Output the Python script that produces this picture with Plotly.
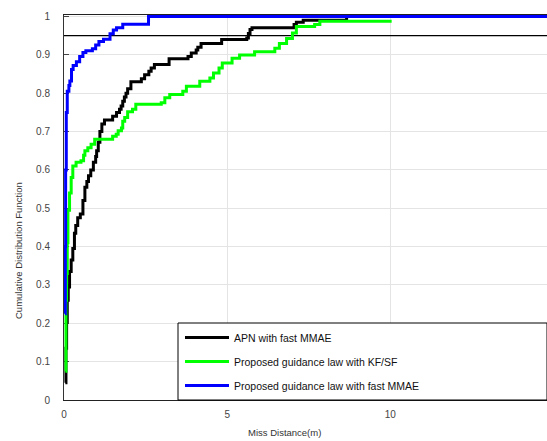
import plotly.graph_objects as go

# ---- data ----
apn_x = [0.04, 0.06, 0.08, 0.1, 0.13, 0.17, 0.22, 0.27, 0.32, 0.36, 0.42, 0.5, 0.58, 0.64, 0.7, 0.75,
         0.82, 0.9, 0.97, 1.0, 1.05, 1.1, 1.16, 1.24, 1.49, 1.61, 1.7, 1.75, 1.8, 1.85, 1.9, 1.95,
         2.05, 2.37, 2.47, 2.6, 2.67, 2.77, 3.22, 3.8, 3.9, 4.05, 4.1, 4.2, 4.83, 5.6, 5.65, 5.7,
         5.76, 7.05, 7.12, 7.33, 8.66]
apn_y = [0.045, 0.135, 0.205, 0.26, 0.295, 0.335, 0.365, 0.395, 0.435, 0.455, 0.475, 0.485, 0.52,
         0.555, 0.57, 0.585, 0.6, 0.62, 0.635, 0.65, 0.672, 0.7, 0.72, 0.73, 0.74, 0.75, 0.758,
         0.767, 0.779, 0.79, 0.8, 0.812, 0.83, 0.838, 0.848, 0.857, 0.866, 0.875, 0.89, 0.896,
         0.905, 0.913, 0.92, 0.93, 0.94, 0.944, 0.956, 0.966, 0.971, 0.979, 0.985, 0.99, 1.0]

kf_x = [0.04, 0.06, 0.08, 0.1, 0.12, 0.17, 0.22, 0.27, 0.37, 0.52, 0.6, 0.64, 0.73, 0.83, 0.94,
        1.49, 1.6, 1.66, 1.76, 1.8, 1.86, 1.95, 2.1, 2.2, 2.98, 3.09, 3.24, 3.64, 3.75, 4.16,
        4.47, 4.58, 4.75, 4.85, 5.15, 5.38, 5.84, 6.46, 6.6, 6.82, 7.0, 7.12, 7.68, 7.84, 10.04]
kf_y = [0.075, 0.26, 0.33, 0.41, 0.495, 0.54, 0.58, 0.61, 0.62, 0.624, 0.638, 0.65, 0.658, 0.667,
        0.68, 0.688, 0.693, 0.702, 0.709, 0.727, 0.737, 0.752, 0.758, 0.771, 0.775, 0.788, 0.797,
        0.805, 0.818, 0.831, 0.84, 0.853, 0.866, 0.879, 0.891, 0.9, 0.908, 0.917, 0.93, 0.943,
        0.957, 0.974, 0.979, 0.988, 0.988]

mmae_x = [0.03, 0.04, 0.05, 0.07, 0.1, 0.15, 0.18, 0.23, 0.28, 0.38, 0.48, 0.58, 0.67, 0.87, 0.97,
          1.07, 1.21, 1.41, 1.51, 1.61, 1.80, 2.59, 15]
mmae_y = [0.225, 0.4, 0.6, 0.75, 0.805, 0.82, 0.832, 0.862, 0.872, 0.882, 0.896, 0.906, 0.911,
          0.916, 0.926, 0.935, 0.941, 0.955, 0.965, 0.971, 0.98, 1.0, 1.0]

threshold = 0.95
x_ticks = [0, 5, 10, 15]
y_ticks = [0, 0.1, 0.2, 0.3, 0.4, 0.5, 0.6, 0.7, 0.8, 0.9, 1]
y_tick_text = ["0", "0.1", "0.2", "0.3", "0.4", "0.5", "0.6", "0.7", "0.8", "0.9", "1"]

names = ["APN with fast MMAE", "Proposed guidance law with KF/SF", "Proposed guidance law with fast MMAE"]
colors = ["#000000", "#00ff00", "#0000ff"]

FONT = "Arial, Liberation Sans, sans-serif"

fig = go.Figure()
fig.add_trace(go.Scatter(x=[0, 15], y=[threshold, threshold], mode="lines",
                         line=dict(color="black", width=1.2), showlegend=False, hoverinfo="skip"))
for i, (xs, ys) in enumerate([(apn_x, apn_y), (kf_x, kf_y), (mmae_x, mmae_y)]):
    fig.add_trace(go.Scatter(x=xs, y=ys, mode="lines", name=names[i],
                             line=dict(color=colors[i], width=3, shape="hv"),
                             legendgroup="g%d" % i))

W, H = 547, 441
L, R, T, B = 64, 0, 15, 41
pw = W - L - R
ph = H - T - B

def px_x(p):
    return (p - L) / pw

def px_y(p):
    return (H - B - p) / ph

fig.add_shape(type="rect", xref="paper", yref="paper",
              x0=px_x(178), x1=1.0, y0=0, y1=px_y(323),
              fillcolor="white", line=dict(color="black", width=1), layer="above")

fig.update_layout(
    width=W, height=H,
    margin=dict(l=L, r=R, t=T, b=B, pad=0, autoexpand=False),
    paper_bgcolor="white", plot_bgcolor="white",
    font=dict(family=FONT, size=10, color="#333333"),
    showlegend=True,
    legend=dict(x=px_x(180), y=px_y(323), xanchor="left", yanchor="top",
                bgcolor="rgba(0,0,0,0)", borderwidth=0,
                font=dict(family=FONT, size=10.5, color="#111111"),
                tracegroupgap=5, itemwidth=44),
    xaxis=dict(range=[0, 14.8], tickvals=x_ticks, ticktext=[str(v) for v in x_ticks],
               showgrid=True, gridcolor="#e4e4e4", gridwidth=1, zeroline=False,
               showline=True, linecolor="#222222", linewidth=1, mirror=True,
               ticks="inside", ticklen=5, tickcolor="#444444", automargin=False,
               ticklabelstandoff=5, layer="below traces",
               tickfont=dict(size=10, color="#444444")),
    yaxis=dict(range=[0, 1.004], tickvals=y_ticks, ticktext=y_tick_text,
               showgrid=True, gridcolor="#e4e4e4", gridwidth=1, zeroline=False,
               showline=True, linecolor="#333333", linewidth=1, mirror=True,
               ticks="inside", ticklen=5, tickcolor="#444444", automargin=False,
               ticklabelstandoff=11, layer="below traces",
               tickfont=dict(size=10, color="#444444")),
    annotations=[
        dict(text="Miss Distance(m)", xref="paper", yref="paper",
             x=px_x(284), y=px_y(432), xanchor="center", yanchor="middle",
             showarrow=False, font=dict(family=FONT, size=9.5, color="#333333")),
        dict(text="Cumulative Distribution Function", xref="paper", yref="paper",
             x=px_x(18), y=px_y(251), xanchor="center", yanchor="middle", textangle=-90,
             showarrow=False, font=dict(family=FONT, size=9.5, color="#333333")),
    ],
)

fig.write_html("out.html", config={"displayModeBar": False},
               post_script="document.body.style.margin='0';document.body.style.overflow='hidden';")
